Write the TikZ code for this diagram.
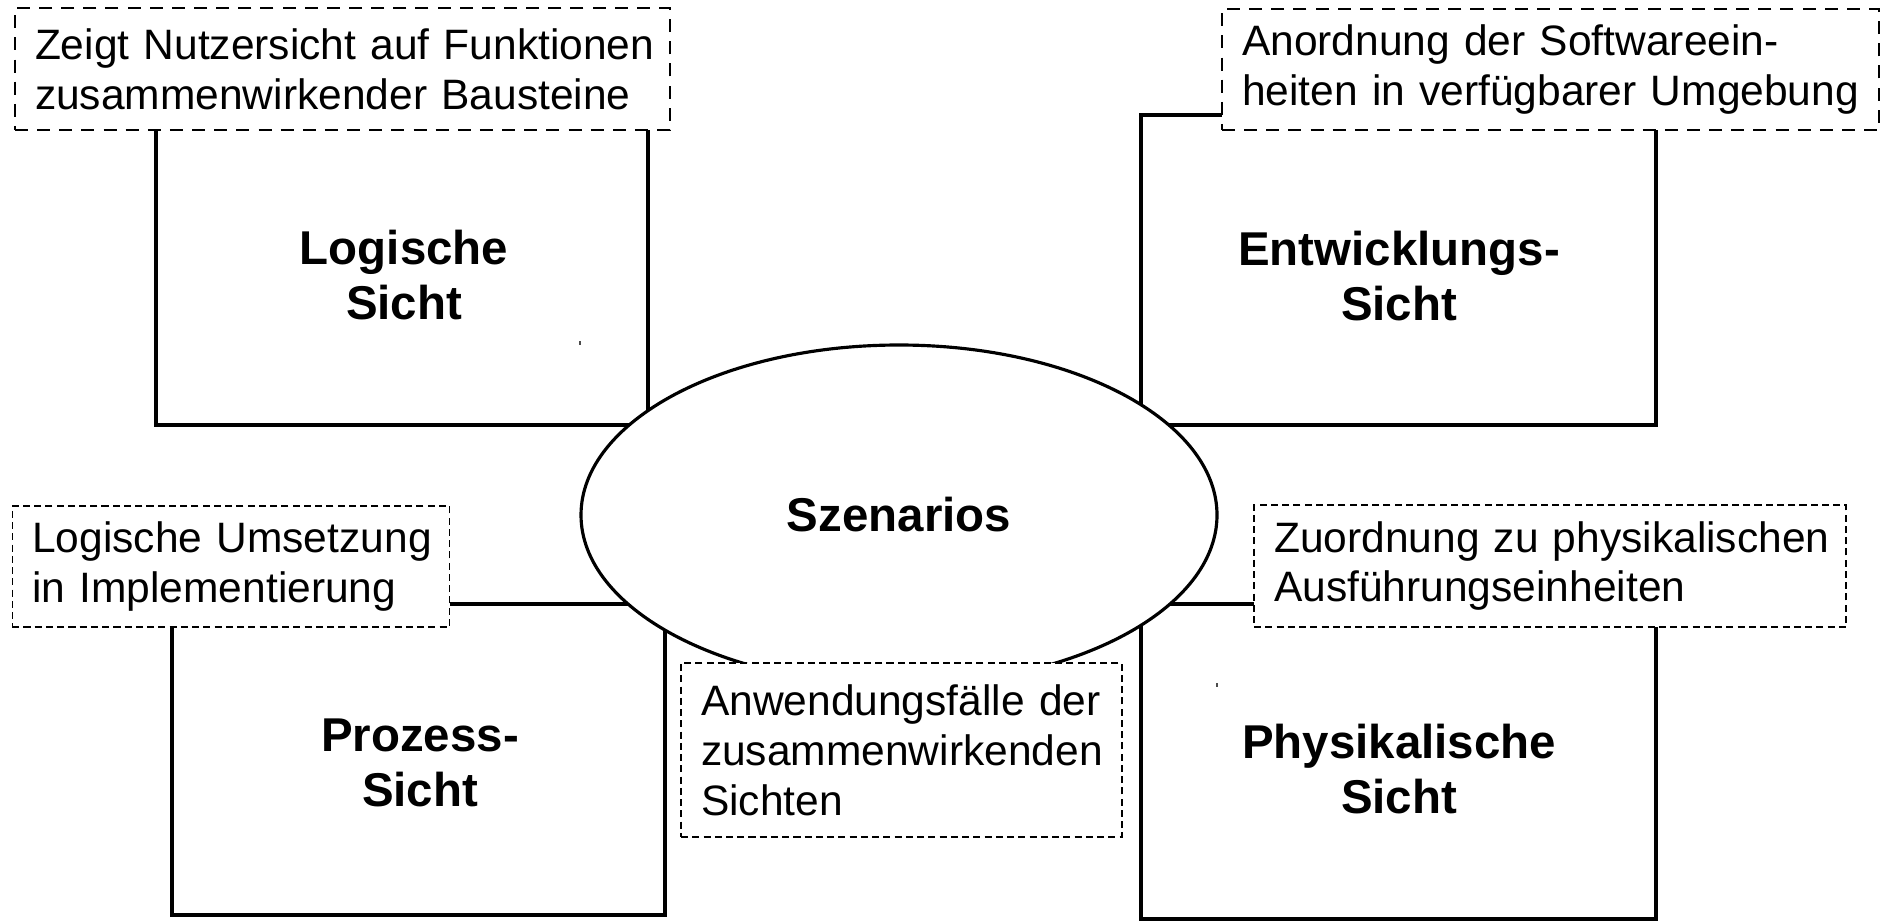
\documentclass[tikz,border=0pt]{standalone}
\usepackage{fontspec}
\setmainfont{Liberation Sans}
\usetikzlibrary{shapes.geometric}
\tikzset{
  viewbox/.style={draw, line width=1.1pt, minimum width=#1, minimum height=31mm, inner sep=0pt},
  viewlabel/.style={align=center, font=\fontsize{13.5}{15.6}\selectfont\bfseries, inner sep=0pt},
  scenario/.style={ellipse, draw, line width=0.9pt, fill=white, minimum width=63.6mm, minimum height=34mm, inner sep=0pt,
    font=\fontsize{13.5}{15.6}\selectfont\bfseries},
  notebase/.style={fill=white, align=left, inner xsep=2mm, inner ysep=0pt,
    font=\fontsize{12.1}{14.2}\selectfont},
  notethick/.style={notebase, draw, line width=0.75pt, dash pattern=on 3.7pt off 2.6pt},
  notethin/.style={notebase, draw, line width=0.35pt, dash pattern=on 2pt off 1.2pt},
  speck/.style={line width=0.3pt, black!70}
}
\begin{document}
\begin{tikzpicture}[x=0.1mm, y=-0.1mm]
  \path[use as bounding box, fill=white] (0,0) rectangle (1881,920);

  % the four views
  \node[viewbox=49.2mm] (logic) at (402,270) {};
  \node[viewbox=51.5mm] (devel) at (1398.5,270) {};
  \node[viewbox=49.3mm, minimum height=31.1mm] (proc) at (418.5,759.5) {};
  \node[viewbox=51.5mm, minimum height=31.5mm] (phys) at (1398.5,761.5) {};

  \node[viewlabel] (logicL) at (404,275) {Logische\\Sicht};
  \node[viewlabel] (develL) at (1399,276) {Entwicklungs-\\Sicht};
  \node[viewlabel] (procL) at (420,763) {Prozess-\\Sicht};
  \node[viewlabel] (physL) at (1399,769) {Physikalische\\Sicht};

  % tiny specks inside two of the boxes
  \draw[speck] (580,341) -- (580,345);
  \draw[speck] (1217,683) -- (1217,687);

  % scenarios in the middle
  \node[scenario] (scen) at (899,515) {Szenarios};

  % explanatory notes
  \node[notethick, text width=61.5mm, minimum height=12.2mm] (nlogic) at (342.5,69)
    {\mbox{Zeigt Nutzersicht auf Funktionen}\\\mbox{zusammenwirkender Bausteine}};
  \node[notethick, text width=61.7mm, minimum height=12.1mm] (ndevel) at (1550.5,69.5)
    {\mbox{Anordnung der Softwareein-}\\\mbox{heiten in verfügbarer Umgebung}};
  \node[notethin, text width=39.75mm, minimum height=12.1mm] (nproc) at (231,566.5)
    {\mbox{Logische Umsetzung}\\\mbox{in Implementierung}};
  \node[notethin, text width=40.1mm, minimum height=17.4mm] (nscen) at (901.5,750)
    {\mbox{Anwendungsfälle der}\\\mbox{zusammenwirkenden}\\\mbox{Sichten}};
  \node[notethin, text width=55.2mm, minimum height=12.2mm] (nphys) at (1550,566)
    {\mbox{Zuordnung zu physikalischen}\\\mbox{Ausführungseinheiten}};
\end{tikzpicture}
\end{document}
